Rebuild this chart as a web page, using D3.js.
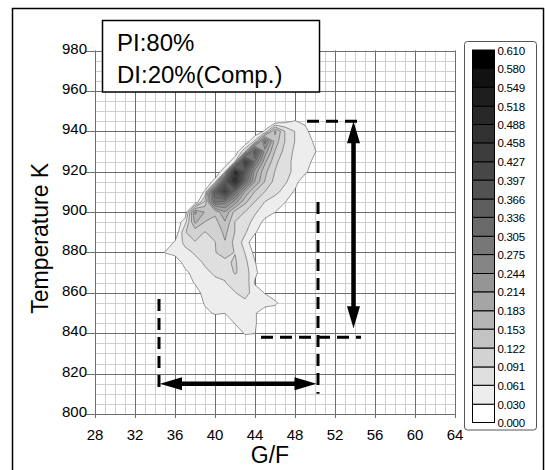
<!DOCTYPE html>
<html>
<head>
<meta charset="utf-8">
<script src="https://cdn.jsdelivr.net/npm/d3@7"></script>
<style>
  body { margin: 0; background: #fff; }
  text { font-family: "Liberation Sans", Arial, sans-serif; fill: #000; }
</style>
</head>
<body>
<svg id="chart" width="546" height="470"></svg>
<script>
// ---- data ----
const gfTicks = [28, 32, 36, 40, 44, 48, 52, 56, 60, 64];
const tempTicks = [800, 820, 840, 860, 880, 900, 920, 940, 960, 980];
const legendLevels = [0.000, 0.030, 0.061, 0.091, 0.122, 0.153, 0.183, 0.214, 0.244, 0.275,
  0.305, 0.336, 0.366, 0.397, 0.427, 0.458, 0.488, 0.518, 0.549, 0.580, 0.610];

// grid the density was sampled on (G/F columns, temperature rows top -> bottom)
const gfGrid = [34, 35, 36, 37, 38, 39, 40, 41, 42, 43, 44, 45, 46, 47, 48, 49, 50, 51];
const tempGrid = [950, 945, 940, 935, 930, 925, 920, 915, 910, 905, 900, 895, 890, 885,
  880, 875, 870, 865, 860, 855, 850, 845, 840, 835];
const density = [
  [0,0,0,0,0,0,0,0,0,0,0,0,0,0,0,0,0,0],
  [0,0,0,0,0,0,0,0,0,0,0,0,0,.02,.032,.02,0,0],
  [0,0,0,0,0,0,0,0,0,0,0,.035,.16,.09,.06,.045,0,0],
  [0,0,0,0,0,0,0,0,0,0,.07,.26,.14,.09,.06,.045,.025,0],
  [0,0,0,0,0,0,0,0,0,.09,.36,.2,.12,.08,.055,.045,.032,0],
  [0,0,0,0,0,0,0,0,.06,.5,.28,.16,.1,.07,.055,.045,.02,0],
  [0,0,0,0,0,0,0,.06,.61,.36,.2,.13,.09,.07,.055,.04,0,0],
  [0,0,0,0,0,0,.045,.36,.56,.3,.18,.12,.08,.065,.045,0,0,0],
  [0,0,0,0,0,.035,.34,.45,.3,.18,.12,.09,.07,.05,.025,0,0,0],
  [0,0,0,0,0,.1,.28,.26,.2,.13,.09,.06,.045,.032,0,0,0,0],
  [0,0,0,0,.19,.15,.13,.18,.11,.09,.065,.045,.031,0,0,0,0,0],
  [0,0,0,.05,.16,.12,.11,.15,.09,.075,.05,.02,0,0,0,0,0,0],
  [0,0,0,.09,.1,.09,.1,.13,.09,.065,.035,0,0,0,0,0,0,0],
  [0,0,.035,.07,.09,.09,.09,.12,.08,.05,0,0,0,0,0,0,0,0],
  [0,.032,.045,.05,.065,.075,.09,.1,.09,.06,.02,0,0,0,0,0,0,0],
  [0,0,0,.045,.05,.065,.075,.085,.095,.07,.032,0,0,0,0,0,0,0],
  [0,0,0,.02,.045,.055,.065,.065,.095,.075,.04,0,0,0,0,0,0,0],
  [0,0,0,0,.035,.045,.055,.06,.07,.085,.025,0,0,0,0,0,0,0],
  [0,0,0,0,0,.055,.05,.05,.06,.07,.05,.028,0,0,0,0,0,0],
  [0,0,0,0,0,.035,.045,.04,.05,.055,.05,.05,.04,0,0,0,0,0],
  [0,0,0,0,0,.02,.035,.031,.04,.045,.035,0,0,0,0,0,0,0],
  [0,0,0,0,0,0,0,0,.032,.045,.035,0,0,0,0,0,0,0],
  [0,0,0,0,0,0,0,0,0,.035,.031,0,0,0,0,0,0,0],
  [0,0,0,0,0,0,0,0,0,0,0,0,0,0,0,0,0,0]
];

// marked ranges (arrows and dashed guides)
const tempRange = [945, 838];     // dashed guide levels
const tempArrowEnds = [945, 842.5];
const gfRange = [34.4, 50.3];     // dashed guide positions
const gfArrowEnds = [34.5, 50.15];
const arrowGF = 53.85;
const arrowTemp = 815;
const guideLow = 810;
const leftGuideTop = 857;
const rightGuideTop = 905;
const topGuideFrom = 49.2;
const bottomGuideFrom = 44.6;
const guideTo = 54.6;

const infoLines = ["PI:80%", "DI:20%(Comp.)"];

// fill colours of the legend bands, lowest first
const bandColors = ["#ffffff", "#ededed", "#dfdfdf", "#d2d2d2", "#c3c3c3", "#b5b5b5", "#a5a5a5",
  "#959595", "#858585", "#777777", "#6a6a6a", "#5e5e5e", "#525252", "#474747", "#3c3c3c",
  "#323232", "#282828", "#1e1e1e", "#121212", "#000000"];

// ---- layout ----
const svg = d3.select("#chart");
const x = d3.scaleLinear().domain([28, 64]).range([95, 455]);
const y = d3.scaleLinear().domain([800, 980]).range([414, 50.5]);

// outer frame
svg.append("rect")
  .attr("x", 12.5).attr("y", 8.5).attr("width", 531).attr("height", 475)
  .attr("fill", "none").attr("stroke", "#000").attr("stroke-width", 1.5);

// minor grid
const grid = svg.append("g");
grid.selectAll(".vminor").data(x.ticks(36)).join("line")
  .attr("x1", d => Math.round(x(d)) + 0.5).attr("x2", d => Math.round(x(d)) + 0.5)
  .attr("y1", y(980)).attr("y2", y(800))
  .attr("stroke", "#cfcfcf").attr("stroke-width", 1);
grid.selectAll(".hminor").data(y.ticks(36)).join("line")
  .attr("y1", d => Math.round(y(d)) + 0.5).attr("y2", d => Math.round(y(d)) + 0.5)
  .attr("x1", x(28)).attr("x2", x(64))
  .attr("stroke", "#cfcfcf").attr("stroke-width", 1);
// major grid
grid.selectAll(".vmajor").data(gfTicks).join("line")
  .attr("x1", d => Math.round(x(d)) + 0.5).attr("x2", d => Math.round(x(d)) + 0.5)
  .attr("y1", y(980)).attr("y2", y(800) + 4)
  .attr("stroke", "#6e6e6e").attr("stroke-width", 1);
grid.selectAll(".hmajor").data(tempTicks).join("line")
  .attr("y1", d => Math.round(y(d)) + 0.5).attr("y2", d => Math.round(y(d)) + 0.5)
  .attr("x1", x(28) - 9).attr("x2", x(64))
  .attr("stroke", "#6e6e6e").attr("stroke-width", 1);

// contours
const n = gfGrid.length, m = tempGrid.length;
const gi = d3.scaleLinear().domain([0.5, n - 0.5]).range([gfGrid[0], gfGrid[n - 1]]);
const ti = d3.scaleLinear().domain([0.5, m - 0.5]).range([tempGrid[0], tempGrid[m - 1]]);
const proj = d3.geoTransform({
  point: function(px, py) { this.stream.point(x(gi(px)), y(ti(py))); }
});
const contourPath = d3.geoPath(proj);
const bands = d3.contours().size([n, m]).thresholds(legendLevels.slice(1, 20))(density.flat());
svg.append("g").selectAll("path").data(bands).join("path")
  .attr("d", contourPath)
  .attr("fill", (d, i) => bandColors[i + 1])
  .attr("stroke", "#555")
  .attr("stroke-width", 0.6)
  .attr("stroke-linejoin", "round");

// tick labels
svg.append("g").selectAll("text").data(tempTicks).join("text")
  .attr("x", 87).attr("y", d => y(d) + 3)
  .attr("text-anchor", "end").attr("font-size", 15)
  .text(d => d);
svg.append("g").selectAll("text").data(gfTicks).join("text")
  .attr("x", d => x(d)).attr("y", 440)
  .attr("text-anchor", "middle").attr("font-size", 15)
  .text(d => d);

// axis titles
svg.append("text")
  .attr("transform", `translate(48,${y(890) + 6}) rotate(-90)`)
  .attr("text-anchor", "middle").attr("font-size", 23)
  .text("Temperature K");
svg.append("text")
  .attr("x", x(45.5)).attr("y", 463)
  .attr("text-anchor", "middle").attr("font-size", 23)
  .text("G/F");

// dashed guides
const dash = svg.append("g").attr("stroke", "#000").attr("stroke-width", 3)
  .attr("stroke-dasharray", "12,7").attr("fill", "none");
dash.append("line")
  .attr("x1", x(topGuideFrom)).attr("x2", x(guideTo))
  .attr("y1", y(tempRange[0])).attr("y2", y(tempRange[0]));
dash.append("line")
  .attr("x1", x(bottomGuideFrom)).attr("x2", x(guideTo))
  .attr("y1", y(tempRange[1])).attr("y2", y(tempRange[1]));
dash.append("line")
  .attr("x1", x(gfRange[0])).attr("x2", x(gfRange[0]))
  .attr("y1", y(leftGuideTop)).attr("y2", y(guideLow));
dash.append("line")
  .attr("x1", x(gfRange[1])).attr("x2", x(gfRange[1]))
  .attr("y1", y(rightGuideTop)).attr("y2", y(guideLow));

// double arrows
function doubleArrow(g, x1, y1, x2, y2) {
  const len = Math.hypot(x2 - x1, y2 - y1);
  const ux = (x2 - x1) / len, uy = (y2 - y1) / len;
  const nx = -uy, ny = ux;
  const hl = 22, hw = 6.5;
  g.append("line")
    .attr("x1", x1 + ux * hl * 0.8).attr("y1", y1 + uy * hl * 0.8)
    .attr("x2", x2 - ux * hl * 0.8).attr("y2", y2 - uy * hl * 0.8)
    .attr("stroke", "#000").attr("stroke-width", 4.5);
  [[x1, y1, 1], [x2, y2, -1]].forEach(([tx, ty, s]) => {
    const bx = tx + s * ux * hl, by = ty + s * uy * hl;
    g.append("path")
      .attr("d", `M${tx},${ty}L${bx + nx * hw},${by + ny * hw}L${bx - nx * hw},${by - ny * hw}Z`)
      .attr("fill", "#000");
  });
}
const arrows = svg.append("g");
doubleArrow(arrows, x(arrowGF), y(tempArrowEnds[0]), x(arrowGF), y(tempArrowEnds[1]));
doubleArrow(arrows, x(gfArrowEnds[0]), y(arrowTemp), x(gfArrowEnds[1]), y(arrowTemp));

// info box
const info = svg.append("g");
info.append("rect")
  .attr("x", 102.5).attr("y", 20.5).attr("width", 217).attr("height", 71.5)
  .attr("fill", "#fff").attr("stroke", "#000").attr("stroke-width", 1.5);
info.selectAll("text").data(infoLines).join("text")
  .attr("x", 117).attr("y", (d, i) => 51 + i * 32)
  .attr("font-size", 24)
  .text(d => d);

// legend
const legend = svg.append("g");
legend.append("rect")
  .attr("x", 464.5).attr("y", 41.5).attr("width", 72).attr("height", 388.5)
  .attr("rx", 3).attr("fill", "#fff").attr("stroke", "#555").attr("stroke-width", 1);
const ly = d3.scaleLinear().domain([0, 0.610]).range([422.5, 50]);
const levelPairs = d3.pairs(legendLevels);
legend.selectAll(".band").data(levelPairs).join("rect")
  .attr("x", 472.5).attr("width", 22)
  .attr("y", d => ly(d[1])).attr("height", d => ly(d[0]) - ly(d[1]))
  .attr("fill", (d, i) => bandColors[i])
  .attr("stroke", "#000").attr("stroke-width", 1);
legend.selectAll(".lab").data(legendLevels).join("text")
  .attr("x", 497.5).attr("y", d => ly(d) + 4.5)
  .attr("font-size", 11.5).attr("letter-spacing", -0.3)
  .text(d => d.toFixed(3));
</script>
</body>
</html>
